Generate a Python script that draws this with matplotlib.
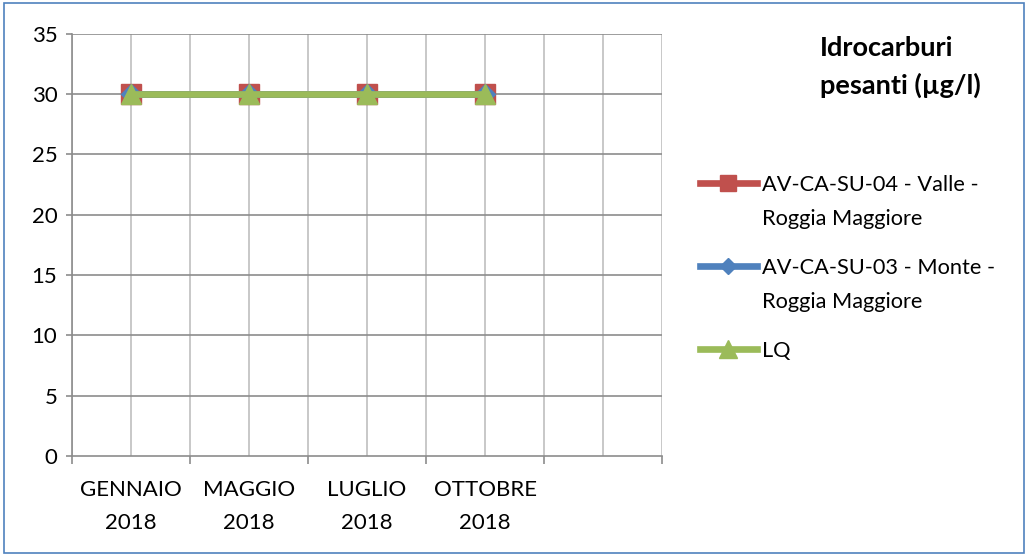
import matplotlib.pyplot as plt
from matplotlib.patches import Rectangle

plt.rcParams['font.family'] = ['Lato', 'DejaVu Sans']

mesi = ['GENNAIO\n2018', 'MAGGIO\n2018', 'LUGLIO\n2018', 'OTTOBRE\n2018']
n_slot = 5  # slot vuoto a destra
valle = [30, 30, 30, 30]
monte = [30, 30, 30, 30]
lq = [30, 30, 30, 30]
yticks = [0, 5, 10, 15, 20, 25, 30, 35]

fig = plt.figure(figsize=(10.28, 5.56), dpi=100)
ax = fig.add_axes([0.070, 0.180, 0.574, 0.759])

x = list(range(len(mesi)))
ax.plot(x, valle, color='#c0504d', lw=4.8, marker='s', ms=14,
        label='AV-CA-SU-04 - Valle -\nRoggia Maggiore', zorder=3)
ax.plot(x, monte, color='#4f81bd', lw=4.8, marker='D', ms=10,
        label='AV-CA-SU-03 - Monte -\nRoggia Maggiore', zorder=4)
ax.plot(x, lq, color='#9bbb59', lw=4.8, marker='^', ms=15,
        label='LQ', zorder=5)

ax.set_xlim(-0.5, n_slot - 0.5)
ax.set_ylim(0, 35)
ax.set_yticks(yticks)

# griglia verticale ogni mezza categoria
for i in range(2 * n_slot + 1):
    ax.axvline(-0.5 + i * 0.5, color='#bfbfbf', lw=1.2, zorder=1)
for y in yticks[1:]:
    ax.axhline(y, color='#8c8c8c', lw=1.2, zorder=1)

ax.set_xticks([i - 0.5 for i in range(n_slot + 1)])
ax.set_xticklabels([])
ax.set_xticks(x, minor=True)
ax.set_xticklabels(mesi, minor=True, linespacing=1.85)
ax.tick_params(axis='x', which='major', length=5.5, color='#8c8c8c', width=1.2)
ax.tick_params(axis='x', which='minor', length=0, pad=17, labelsize=16)
ax.tick_params(axis='y', length=4.5, color='#8c8c8c', width=1.2, labelsize=16, pad=6)

for s in ['top', 'right']:
    ax.spines[s].set_visible(False)
ax.spines['left'].set_color('#8c8c8c')
ax.spines['bottom'].set_color('#8c8c8c')
ax.spines['left'].set_linewidth(1.2)
ax.spines['bottom'].set_linewidth(1.2)

fig.text(0.798, 0.880, 'Idrocarburi\npesanti (µg/l)', ha='left', va='center',
         fontsize=19.5, fontweight='bold', linespacing=1.62)

leg = fig.legend(loc='upper left', bbox_to_anchor=(0.681, 0.685), frameon=False,
                 fontsize=15.7, handlelength=2.6, handletextpad=0.23,
                 labelspacing=1.35, borderpad=0, borderaxespad=0, markerscale=0.85)
for t in leg.get_texts():
    t.set_linespacing(1.85)
# handle allineato alla prima riga del testo
for col in leg._legend_handle_box.get_children():
    for item in col.get_children():
        item.align = 'top'

fig.patches.append(Rectangle((0.004, 0.006), 0.992, 0.988, transform=fig.transFigure,
                             fill=False, edgecolor='#4f81bd', lw=1.2))

fig.savefig('out.png', dpi=100)
